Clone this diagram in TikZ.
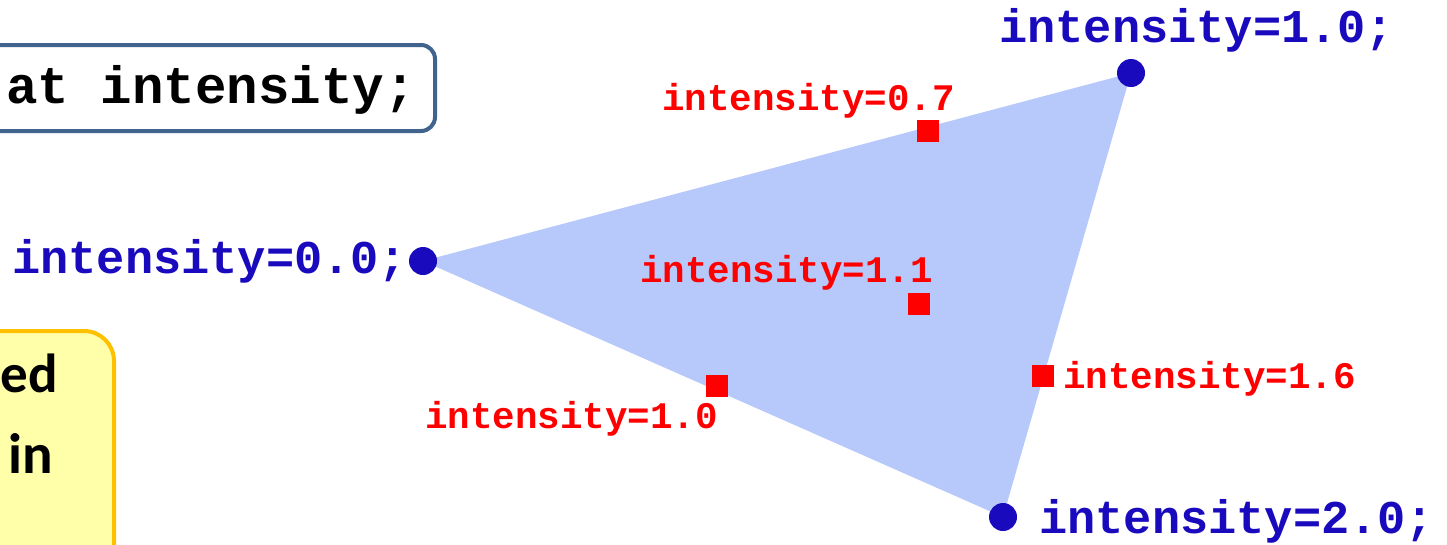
\documentclass[tikz,border=0pt]{standalone}
\usepackage{fontspec}
\setmainfont{Carlito}
\setmonofont{Liberation Mono}
\definecolor{vblue}{RGB}{26,10,190}
\definecolor{trifill}{RGB}{183,201,250}
\definecolor{boxline}{RGB}{65,100,143}
\definecolor{noteline}{RGB}{255,192,0}
\definecolor{notefill}{RGB}{255,255,170}
\begin{document}
\begin{tikzpicture}[x=1pt,y=-1pt,
  vert/.style={circle,fill=vblue,inner sep=0pt,minimum size=28pt},
  frag/.style={rectangle,fill=red,inner sep=0pt,minimum size=22pt},
  vlabel/.style={inner sep=0pt,anchor=base west,text=vblue,font=\ttfamily\bfseries\fontsize{47}{50}\selectfont},
  flabel/.style={inner sep=0pt,anchor=base west,text=red,font=\ttfamily\bfseries\fontsize{37.5}{40}\selectfont}]
  \useasboundingbox (0,0) rectangle (1447,544);
  \begin{scope}
    \clip (0,0) rectangle (1447,544);
    % declaration box, cut at the left edge
    \draw[boxline,line width=4pt,rounded corners=14pt,fill=white] (-40,45) rectangle (435,131);
    \node[inner sep=0pt,anchor=base east,font=\ttfamily\bfseries\fontsize{52.5}{55}\selectfont] (decl) at (416,103) {at intensity;};
    % note box, cut at the left and bottom edges
    \draw[noteline,line width=4pt,rounded corners=30pt,fill=notefill] (-60,331) rectangle (114,600);
    \node[inner sep=0pt,anchor=base east,font=\bfseries\fontsize{55}{60}\selectfont] (note1) at (58,392) {ed};
    \node[inner sep=0pt,anchor=base east,font=\bfseries\fontsize{57}{60}\selectfont] (note2) at (53,473) {in};
  \end{scope}
  % triangle and its vertices
  \coordinate (p0) at (423,261);
  \coordinate (p1) at (1131,73);
  \coordinate (p2) at (1003,517);
  \fill[trifill] (p0) -- (p1) -- (p2) -- cycle;
  \node[vert] (v0) at (p0) {};
  \node[vert] (v1) at (p1) {};
  \node[vert] (v2) at (p2) {};
  \node[vlabel] (l0) at (12,273) {intensity=0.0;};
  \node[vlabel] (l1) at (999,42) {intensity=1.0;};
  \node[vlabel] (l2) at (1039,533) {intensity=2.0;};
  % fragments
  \node[frag] (f1) at (928,131) {};
  \node[frag] (f2) at (919,304) {};
  \node[frag] (f3) at (717,386) {};
  \node[frag] (f4) at (1043,376) {};
  \node[flabel] (t1) at (662,110) {intensity=0.7};
  \node[flabel] (t2) at (640,282) {intensity=1.1};
  \node[flabel] (t3) at (425,428) {intensity=1.0};
  \node[flabel] (t4) at (1063,388) {intensity=1.6};
\end{tikzpicture}
\end{document}
